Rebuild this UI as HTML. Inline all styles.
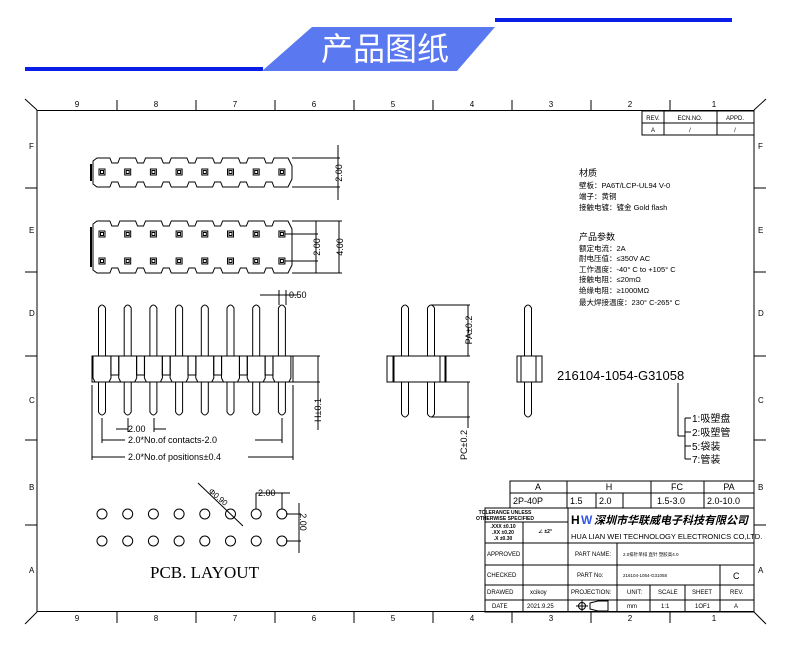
<!DOCTYPE html>
<html><head><meta charset="utf-8"><style>
html,body{margin:0;padding:0;background:#fff;width:790px;height:663px;overflow:hidden}
svg{display:block}
text{font-family:"Liberation Sans","Noto Sans CJK SC",sans-serif;fill:#000}
.serif{font-family:"Liberation Serif","Noto Serif CJK SC",serif}
</style></head><body>
<svg id="s" width="790" height="663" viewBox="0 0 790 663" xmlns="http://www.w3.org/2000/svg">
<rect x="25" y="67" width="238" height="4" fill="#0a1ee8"/>
<rect x="495" y="18" width="237" height="4" fill="#0a1ee8"/>
<polygon points="312,27 495,27 457,71 262,71" fill="#5a78f0"/>
<text x="385" y="60" font-size="32" style="fill:#fff;font-family:'Noto Sans CJK SC',sans-serif" text-anchor="middle">产品图纸</text>
<g stroke="#000" fill="none" stroke-width="1">
<rect x="37" y="110.5" width="717" height="501"/>
<line x1="25" y1="99" x2="37" y2="110"/><line x1="766" y1="99" x2="754" y2="110"/>
<line x1="25" y1="624" x2="37" y2="612"/><line x1="766" y1="624" x2="754" y2="612"/>
</g>
<g id="g" stroke="#000" fill="none" stroke-width="1"></g>
<g font-size="8">
<text x="77" y="107" text-anchor="middle">9</text><text x="156" y="107" text-anchor="middle">8</text><text x="235" y="107" text-anchor="middle">7</text><text x="314" y="107" text-anchor="middle">6</text><text x="393" y="107" text-anchor="middle">5</text><text x="472" y="107" text-anchor="middle">4</text><text x="551" y="107" text-anchor="middle">3</text><text x="630" y="107" text-anchor="middle">2</text><text x="714" y="107" text-anchor="middle">1</text>
<text x="77" y="621" text-anchor="middle">9</text><text x="156" y="621" text-anchor="middle">8</text><text x="235" y="621" text-anchor="middle">7</text><text x="314" y="621" text-anchor="middle">6</text><text x="393" y="621" text-anchor="middle">5</text><text x="472" y="621" text-anchor="middle">4</text><text x="551" y="621" text-anchor="middle">3</text><text x="630" y="621" text-anchor="middle">2</text><text x="714" y="621" text-anchor="middle">1</text>
<text x="29" y="149">F</text><text x="29" y="233">E</text><text x="29" y="316">D</text><text x="29" y="403">C</text><text x="29" y="490">B</text><text x="29" y="573">A</text>
<text x="758" y="149">F</text><text x="758" y="233">E</text><text x="758" y="316">D</text><text x="758" y="403">C</text><text x="758" y="490">B</text><text x="758" y="573">A</text>
</g>
<g font-size="6" text-anchor="middle">
<text x="653" y="120">REV.</text><text x="690" y="120">ECN.NO.</text><text x="735" y="120">APPD.</text>
<text x="653" y="132">A</text><text x="690" y="132">/</text><text x="735" y="132">/</text>
</g>
<g font-size="7.5">
<text x="579" y="176" font-size="9">材质</text>
<text x="579" y="188">壁板：PA6T/LCP-UL94 V-0</text>
<text x="579" y="199">端子：黄铜</text>
<text x="579" y="210">接触电镀：镀金 Gold flash</text>
<text x="579" y="240" font-size="9">产品参数</text>
<text x="579" y="251">额定电流：2A</text>
<text x="579" y="261">耐电压值：≤350V AC</text>
<text x="579" y="272">工作温度：-40° C to +105° C</text>
<text x="579" y="282">接触电阻：≤20mΩ</text>
<text x="579" y="293">绝缘电阻：≥1000MΩ</text>
<text x="579" y="305">最大焊接温度：230° C-265° C</text>
</g>
<g font-size="9">
<text x="289" y="298">0.50</text>
<text x="128" y="432">2.00</text>
<text x="128" y="443">2.0*No.of contacts-2.0</text>
<text x="128" y="460">2.0*No.of positions±0.4</text>
<text transform="translate(342,173) rotate(-90)" text-anchor="middle">2.00</text>
<text transform="translate(320,247) rotate(-90)" text-anchor="middle">2.00</text>
<text transform="translate(343,247) rotate(-90)" text-anchor="middle">4.00</text>
<text transform="translate(321,410) rotate(-90)" text-anchor="middle">H±0.1</text>
<text transform="translate(472,330) rotate(-90)" text-anchor="middle">PA±0.2</text>
<text transform="translate(467,445) rotate(-90)" text-anchor="middle">PC±0.2</text>
<text x="258" y="496">2.00</text>
<text transform="translate(300,522) rotate(90)" text-anchor="middle">2.00</text>
<text transform="translate(208,492) rotate(40)" font-size="8">Φ0.90</text>
</g>
<text x="557" y="380" font-size="13">216104-1054-G31058</text>
<g font-size="10">
<text x="692" y="422">1:吸塑盘</text><text x="692" y="436">2:吸塑管</text><text x="692" y="450">5:袋装</text><text x="692" y="463">7:管装</text>
</g>
<text x="150" y="578" font-size="17" class="serif">PCB. LAYOUT</text>
<g font-size="9" class="serif">
<text x="538" y="490" text-anchor="middle">A</text><text x="609" y="490" text-anchor="middle">H</text><text x="677" y="490" text-anchor="middle">FC</text><text x="729" y="490" text-anchor="middle">PA</text>
<text x="513" y="504">2P-40P</text><text x="570" y="504">1.5</text><text x="599" y="504">2.0</text><text x="657" y="504">1.5-3.0</text><text x="707" y="504">2.0-10.0</text>
</g>
<g font-size="5" text-anchor="middle" font-weight="bold">
<text x="505" y="514">TOLERANCE UNLESS</text><text x="505" y="520">OTHERWISE SPECIFIED</text>
<text x="503" y="528">.XXX ±0.10</text><text x="503" y="534">.XX ±0.20</text><text x="503" y="540">.X ±0.30</text>
<text x="545" y="533">∠ ±2°</text>
</g>
<text x="571" y="524" font-size="12" font-weight="bold">H</text>
<text x="581" y="524" font-size="12" font-weight="bold" style="fill:#3355ee">W</text>
<text x="594" y="524" font-size="11" font-weight="bold" font-style="italic" style="font-family:'Noto Sans CJK SC',sans-serif">深圳市华联威电子科技有限公司</text>
<text x="571" y="539" font-size="7.5">HUA LIAN WEI TECHNOLOGY ELECTRONICS CO,LTD.</text>
<g font-size="6">
<text x="487" y="556">APPROVED</text><text x="487" y="577">CHECKED</text><text x="487" y="594">DRAWED</text><text x="492" y="608">DATE</text>
<text x="575" y="556">PART NAME:</text><text x="577" y="577">PART No:</text><text x="571" y="594">PROJECTION:</text>
<text x="627" y="594">UNIT:</text><text x="658" y="594">SCALE</text><text x="692" y="594">SHEET</text><text x="730" y="594">REV.</text>
<text x="627" y="608">mm</text><text x="661" y="608">1:1</text><text x="695" y="608">1OF1</text><text x="734" y="608">A</text>
<text x="530" y="594">xcikoy</text><text x="527" y="608">2021.9.25</text>
<text x="623" y="556" font-size="4.5">2.0排针单排 直针 塑胶高4.0</text>
<text x="623" y="577" font-size="4.5">216104-1054-G31058</text>
</g>
<text x="733" y="579" font-size="9">C</text>
</svg>
<script>
var g=document.getElementById('g'),NS='http://www.w3.org/2000/svg';
function el(t,a){var e=document.createElementNS(NS,t);for(var k in a)e.setAttribute(k,a[k]);g.appendChild(e);return e}
function L(a,b,c,d,w){el('line',{x1:a,y1:b,x2:c,y2:d,'stroke-width':w||1})}
function P(d){el('path',{d:d})}
[117,196,275,354,433,512,591,670].forEach(function(x){L(x,100,x,110);L(x,612,x,623)});
[188,272,356,440,525].forEach(function(y){L(25,y,37,y);L(754,y,766,y)});
el('rect',{x:642,y:111,width:112,height:24});L(642,123,754,123);L(664,111,664,135);L(717,111,717,135);
var p=25.7,x0=102;
function strip(yt,yb){var d='M93,'+(yt+3)+' L97,'+yt;
 for(var i=0;i<8;i++){var c=x0+i*p;if(i<7){var n=c+p/2;d+=' L'+(n-5)+','+yt+' L'+(n-3)+','+(yt+5)+' L'+(n+3)+','+(yt+5)+' L'+(n+5)+','+yt;}}
 d+=' L288,'+yt+' L292,'+(yt+8)+' L292,'+(yb-8)+' L288,'+yb;
 for(var i=6;i>=0;i--){var n=x0+i*p+p/2;d+=' L'+(n+5)+','+yb+' L'+(n+3)+','+(yb-5)+' L'+(n-3)+','+(yb-5)+' L'+(n-5)+','+yb;}
 d+=' L97,'+yb+' L93,'+(yb-3)+' Z';P(d);L(91,yt+6,91,yb-6,2);}
strip(158,187);strip(221,273);
for(var i=0;i<8;i++){var c=x0+i*p;[172,234,261].forEach(function(y){el('rect',{x:c-3,y:y-3,width:6,height:6});el('rect',{x:c-1.5,y:y-1.5,width:3,height:3})});}
L(292,158,340,158);L(292,187,340,187);L(338,145,338,200);
L(285,234,318,234);L(285,261,318,261);L(316,221,316,273);L(292,221,342,221);L(292,273,342,273);L(339,221,339,273);
el('rect',{x:92,y:356,width:201,height:26});
for(var i=0;i<8;i++){var c=x0+i*p;P('M'+(c-3.5)+',356 L'+(c-3.5)+',308 Q'+c+',302 '+(c+3.5)+',308 L'+(c+3.5)+',356');
 P('M'+(c-3.5)+',382 L'+(c-3.5)+',412 Q'+c+',418 '+(c+3.5)+',412 L'+(c+3.5)+',382');
 P('M'+(c-9)+',356 L'+(c-9)+',378 L'+(c-7)+',382 M'+(c+9)+',356 L'+(c+9)+',378 L'+(c+7)+',382');
 if(i<7){var n=c+p/2;el('rect',{x:n-4,y:356,width:8,height:19});}}
L(278,295,298,295);L(279,290,279,305);L(286,290,286,305);L(260,295,280,295);
L(293,356,320,356);L(293,382,320,382);L(318,356,318,430);
L(102,418,102,443);L(282,418,282,443);L(102,440,125,440);L(255,440,282,440);
L(92,385,92,460);L(293,385,293,460);L(92,457,125,457);L(248,457,293,457);
L(128,418,128,432);L(154,418,154,432);L(116,429,128,429);L(154,429,166,429);
function pin(c,t,b){P('M'+(c-3.5)+',356 L'+(c-3.5)+','+(t+3)+' Q'+c+','+(t-3)+' '+(c+3.5)+','+(t+3)+' L'+(c+3.5)+',356');P('M'+(c-3.5)+',382 L'+(c-3.5)+','+(b-3)+' Q'+c+','+(b+3)+' '+(c+3.5)+','+(b-3)+' L'+(c+3.5)+',382');}
pin(405,305,417);pin(431,305,417);
el('rect',{x:393,y:356,width:52,height:26});el('rect',{x:387,y:356,width:7,height:26});el('rect',{x:440,y:356,width:6,height:26});
L(431,305,470,305);L(446,356,470,356);L(468,305,468,356);L(446,382,470,382);L(431,417,470,417);L(468,382,468,428);
pin(528,305,417);el('rect',{x:517,y:356,width:25,height:26});L(521,356,521,382);L(536,356,536,382);
L(678,383,678,436);L(678,436,685,436);L(685,418,685,459);[418,432,446,459].forEach(function(y){L(685,y,691,y)});
for(var i=0;i<8;i++){var c=x0+i*p;[514,541].forEach(function(y){el('circle',{cx:c,cy:y,r:5})});}
L(198,483,243,526);L(256,493,290,493);L(256,493,256,509);L(282,493,282,509);
L(286,514,301,514);L(286,541,301,541);L(299,503,299,553);
el('rect',{x:510,y:481,width:244,height:27});L(510,493,754,493);
[567,651,704].forEach(function(x){L(x,481,x,508)});[596,623].forEach(function(x){L(x,493,x,508)});
el('rect',{x:485,y:508,width:269,height:104});
L(485,522,568,522);L(485,543,754,543);L(485,565,754,565);L(485,585,754,585);L(485,600,754,600);
L(523,522,523,612);L(568,508,568,612);L(617,543,617,612);L(650,585,650,612);L(685,585,685,612);L(720,565,720,612);
el('circle',{cx:582,cy:606,r:3.5});L(576,606,588,606);L(582,600,582,612);P('M590,603 L598,601 L608,601 L608,611 L598,611 L590,609 Z');
</script>
</body></html>
